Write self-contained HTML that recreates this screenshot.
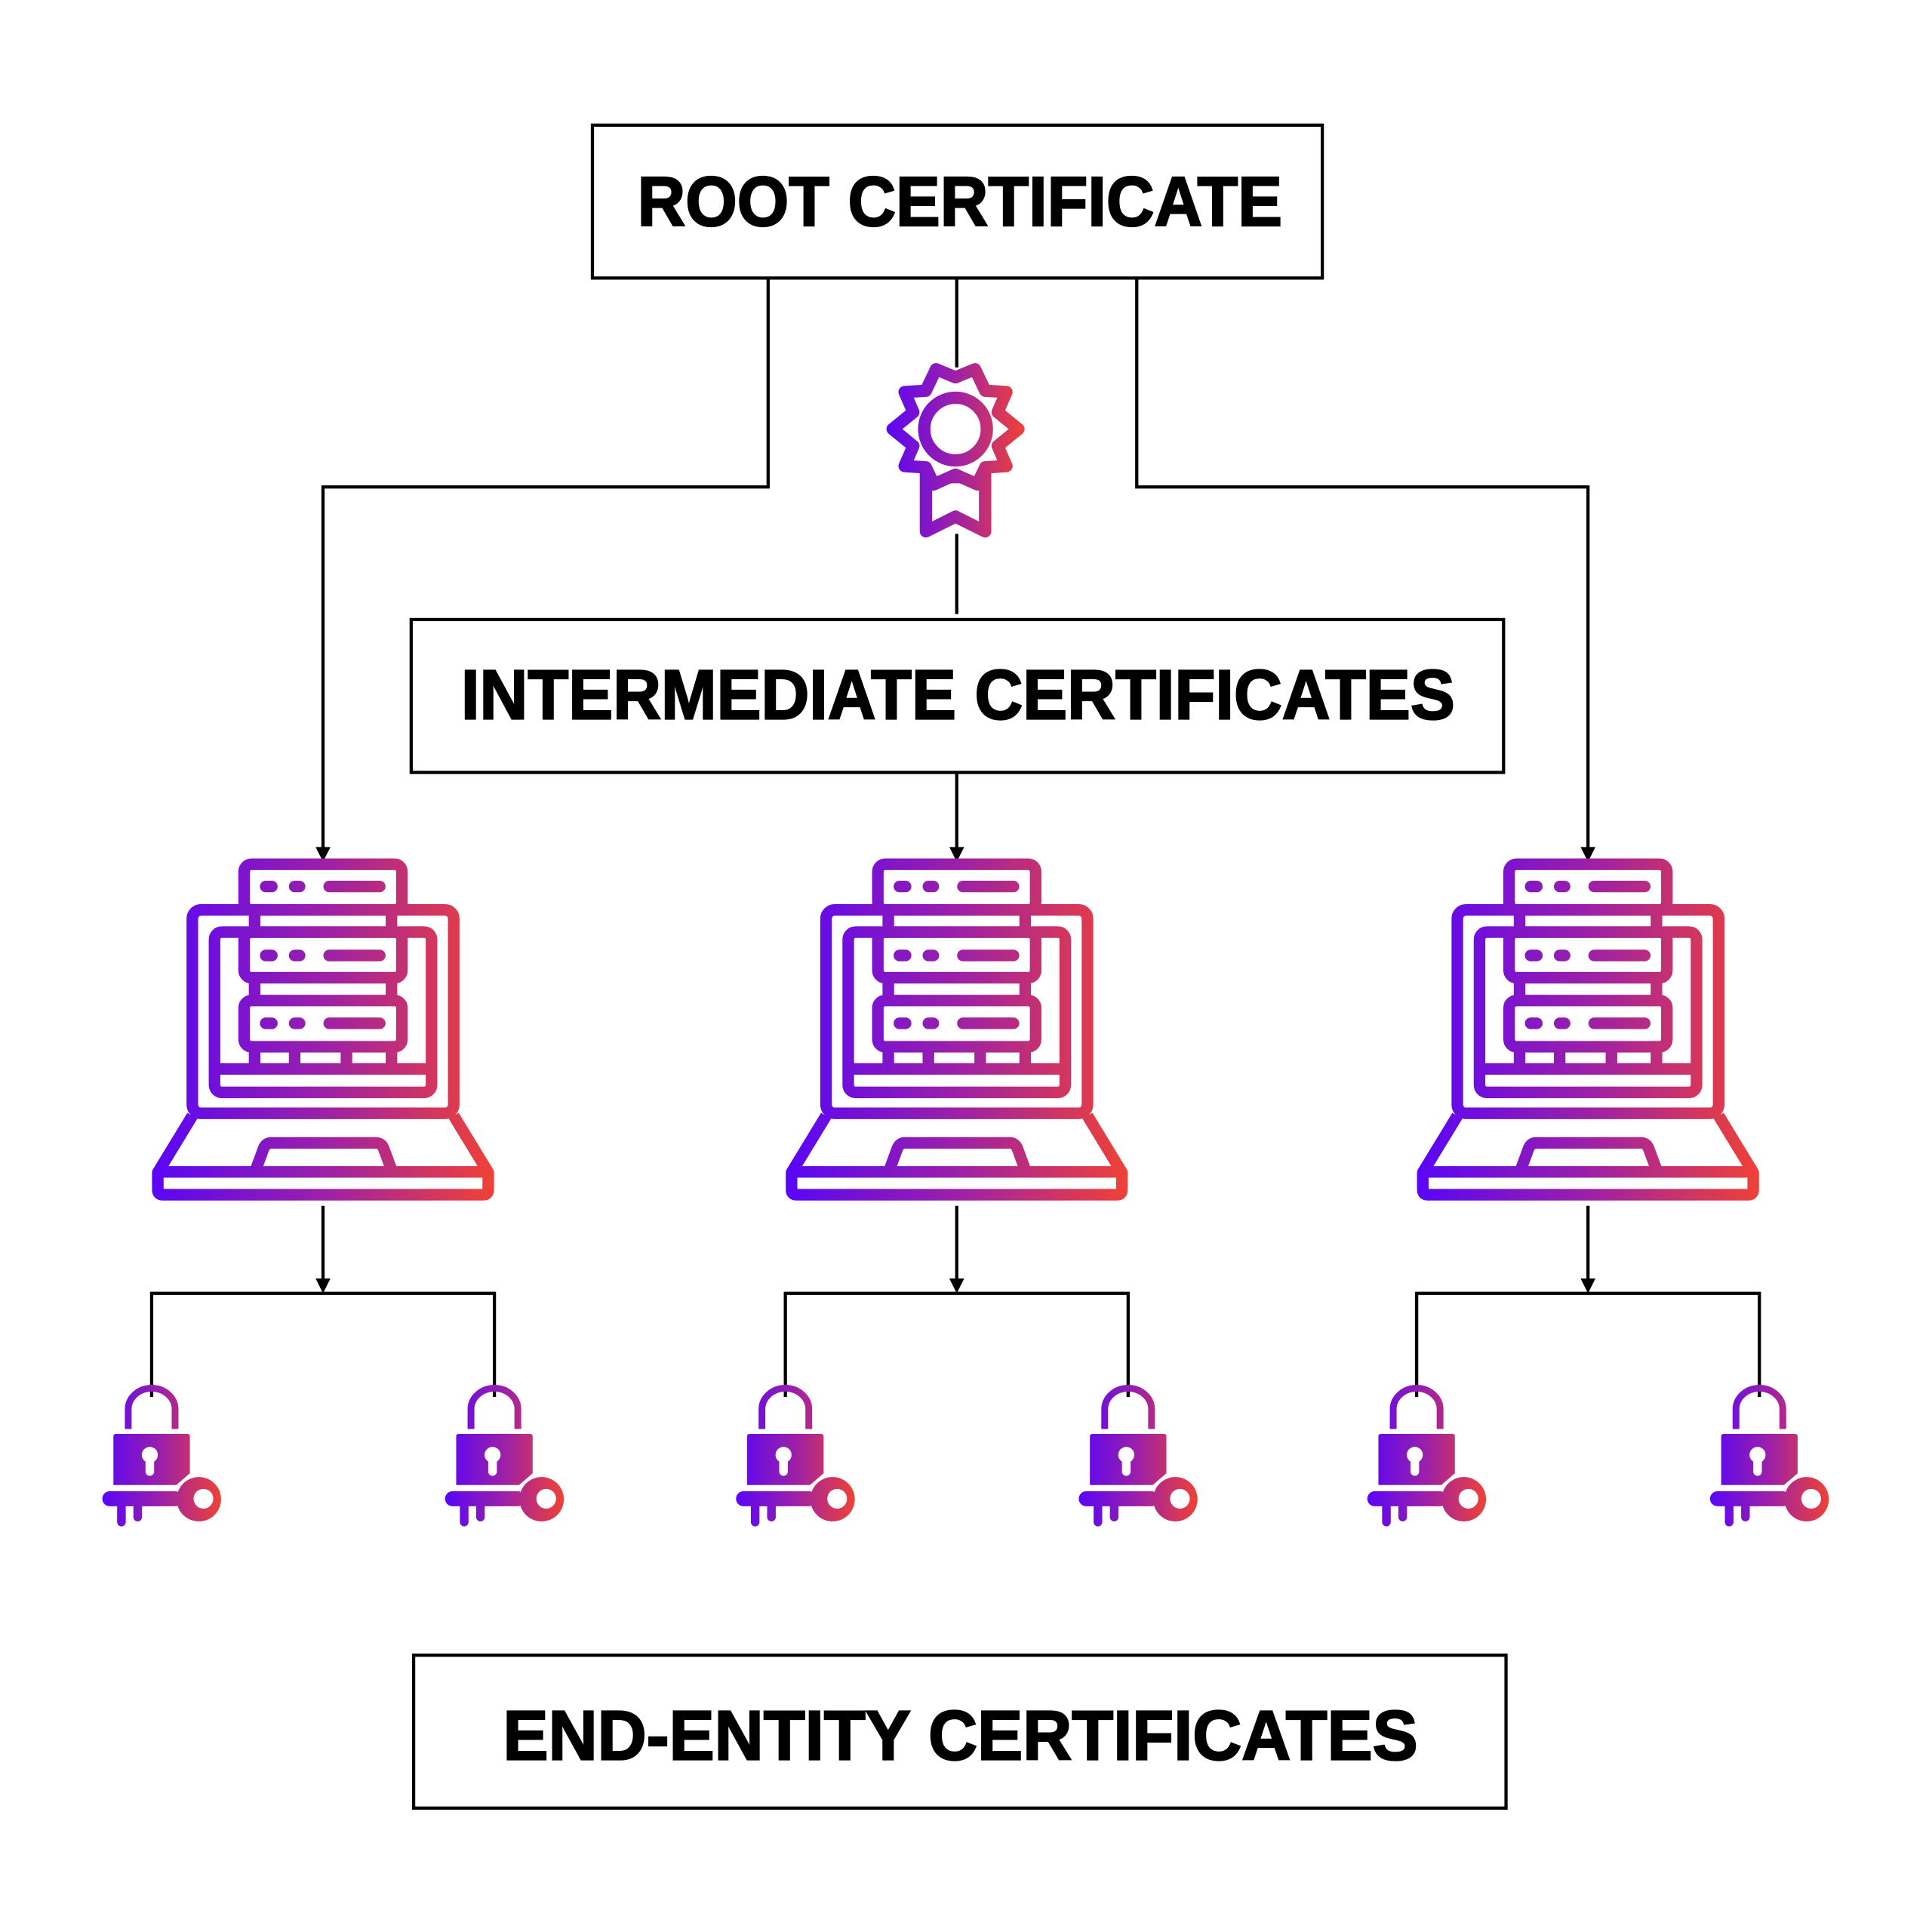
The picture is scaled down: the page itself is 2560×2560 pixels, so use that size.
<!DOCTYPE html>
<html><head><meta charset="utf-8"><style>html,body{margin:0;padding:0;background:#fff}svg{display:block}</style></head>
<body>
<svg width="2560" height="2560" viewBox="0 0 1567 1567" xmlns="http://www.w3.org/2000/svg" xmlns:xlink="http://www.w3.org/1999/xlink">
<defs>
<linearGradient id="gl" gradientUnits="userSpaceOnUse" x1="-137" y1="0" x2="137" y2="0">
<stop offset="0" stop-color="#5a06f5"/><stop offset="0.5" stop-color="#9c20a8"/><stop offset="1" stop-color="#ef4137"/></linearGradient>
<linearGradient id="gm" gradientUnits="userSpaceOnUse" x1="718" y1="0" x2="830" y2="0">
<stop offset="0" stop-color="#5a06f5"/><stop offset="0.5" stop-color="#9c20a8"/><stop offset="1" stop-color="#ef4137"/></linearGradient>
<linearGradient id="gk" gradientUnits="userSpaceOnUse" x1="-40" y1="0" x2="56" y2="0">
<stop offset="0" stop-color="#5a06f5"/><stop offset="0.5" stop-color="#9c20a8"/><stop offset="1" stop-color="#ef4137"/></linearGradient>
<g id="laptop" fill="none" stroke="url(#gl)" stroke-width="9.4" stroke-linejoin="round">
  <rect x="-106" y="735" width="212" height="165" rx="7"/>
  <rect x="-88" y="753" width="176" height="130" rx="6"/>
  <line x1="-88" y1="864" x2="88" y2="864"/>
  <rect x="-64" y="698" width="128" height="37" rx="6"/>
  <rect x="-64" y="753" width="128" height="37" rx="6"/>
  <rect x="-64" y="808.5" width="128" height="37.5" rx="6"/>
  <line x1="-55.5" y1="735" x2="-55.5" y2="753"/><line x1="55.5" y1="735" x2="55.5" y2="753"/>
  <line x1="-55.5" y1="790" x2="-55.5" y2="808"/><line x1="55.5" y1="790" x2="55.5" y2="808"/>
  <line x1="-55.5" y1="846" x2="-55.5" y2="864"/><line x1="55.5" y1="846" x2="55.5" y2="864"/>
  <line x1="-23" y1="846" x2="-23" y2="864"/><line x1="19" y1="846" x2="19" y2="864"/>
  <g stroke-linecap="round">
   <line x1="-46.5" y1="716" x2="-41.5" y2="716"/><line x1="-23" y1="716" x2="-19" y2="716"/><line x1="5" y1="716" x2="46" y2="716"/>
   <line x1="-46.5" y1="772" x2="-41.5" y2="772"/><line x1="-23" y1="772" x2="-19" y2="772"/><line x1="5" y1="772" x2="46" y2="772"/>
   <line x1="-46.5" y1="827" x2="-41.5" y2="827"/><line x1="-23" y1="827" x2="-19" y2="827"/><line x1="5" y1="827" x2="46" y2="827"/>
  </g>
  <path d="M-106,902 L-134,948 L-134,962 Q-134,966 -130,966 L130,966 Q134,966 134,962 L134,948 L106,902"/>
  <line x1="-134" y1="947.5" x2="134" y2="947.5"/>
  <path d="M-55,947 L-48,928 Q-46,924 -42,924 L43,924 Q47,924 49,928 L56,947"/>
</g>
<g id="lock">
  <path d="M-19,1154 L-19,1138 A19,17 0 0 1 19,1138 L19,1154" fill="none" stroke="url(#gk)" stroke-width="5.5"/>
  <path d="M-31,1160 Q-31,1158 -29,1158 L29,1158 Q31,1158 31,1160 L31,1190 L20,1199.5 L-31,1199.5 Z" fill="url(#gk)"/>
  <circle cx="-1.5" cy="1175" r="6.5" fill="#fff"/>
  <rect x="-5" y="1175" width="7" height="17" rx="3.5" fill="#fff"/>
  <circle cx="38.3" cy="1211" r="20.5" fill="#fff"/>
  <rect x="-40" y="1204.5" width="65" height="12.2" rx="6" fill="url(#gk)"/>
  <rect x="-28" y="1208" width="7" height="25" rx="3.5" fill="url(#gk)"/>
  <rect x="-14.8" y="1208" width="7" height="21" rx="3.5" fill="url(#gk)"/>
  <circle cx="38.3" cy="1211" r="18" fill="url(#gk)"/>
  <circle cx="42" cy="1210.6" r="8" fill="#fff"/>
</g>
</defs>

<g fill="none" stroke="#000" stroke-width="2.6">
  <rect x="480.5" y="101.5" width="592" height="124"/>
  <rect x="333.5" y="502.5" width="886" height="124"/>
  <rect x="335.5" y="1342.5" width="886" height="124"/>
  <path d="M776,226 V298 M776,433 V498"/>
  <path d="M623,226 V395 H262 V688"/>
  <path d="M922,226 V395 H1288 V688"/>
  <path d="M776,626 V688"/>
  <path d="M262,978 V1040 M776,978 V1040 M1288,978 V1040"/>
  <path d="M123,1133 V1049 H401 V1133 M637,1133 V1049 H915 V1133 M1149,1133 V1049 H1427 V1133"/>
</g>
<g fill="#000">
  <path d="M256,687 L268,687 L262,699 Z"/>
  <path d="M770,687 L782,687 L776,699 Z"/>
  <path d="M1282,687 L1294,687 L1288,699 Z"/>
  <path d="M256,1037 L268,1037 L262,1049 Z"/>
  <path d="M770,1037 L782,1037 L776,1049 Z"/>
  <path d="M1282,1037 L1294,1037 L1288,1049 Z"/>
</g>

<g font-family="Liberation Sans, sans-serif" font-weight="bold" font-size="57" fill="#000" stroke="#000" stroke-width="1.4">
  <text x="517" y="183" textLength="523" lengthAdjust="spacingAndGlyphs">ROOT CERTIFICATE</text>
  <text x="374" y="583" textLength="806" lengthAdjust="spacingAndGlyphs">INTERMEDIATE CERTIFICATES</text>
  <text x="408" y="1427" textLength="742" lengthAdjust="spacingAndGlyphs">END-ENTITY CERTIFICATES</text>
</g>

<!-- medal -->
<g fill="none" stroke="url(#gm)" stroke-width="10" stroke-linejoin="round">
  <polygon points="826,348 809.2,361.7 816.3,378 799.1,379.1 790.8,396.5 775,390 759.2,396.5 750.9,379.1 733.7,378 740.8,361.7 724,348 740.8,334.3 733.7,318 750.9,316.9 759.2,299.5 775,306 790.8,299.5 799.1,316.9 816.3,318 809.2,334.3"/>
  <circle cx="775" cy="348" r="25.4"/>
</g>
<polygon points="752,392 798,392 798,428 752,428" fill="#fff"/>
<g fill="none" stroke="url(#gm)" stroke-width="10" stroke-linejoin="round" stroke-linecap="round">
  <path d="M751,380 L751,431 L775,419 L799,431 L799,380"/>
  <path d="M757,393 L775,385 L793,393"/>
</g>

<use xlink:href="#laptop" transform="translate(262,3)"/>
<use xlink:href="#laptop" transform="translate(776,3)"/>
<use xlink:href="#laptop" transform="translate(1288,3)"/>

<use xlink:href="#lock" transform="translate(123,5)"/>
<use xlink:href="#lock" transform="translate(401,5)"/>
<use xlink:href="#lock" transform="translate(637,5)"/>
<use xlink:href="#lock" transform="translate(915,5)"/>
<use xlink:href="#lock" transform="translate(1149,5)"/>
<use xlink:href="#lock" transform="translate(1427,5)"/>
</svg>
</body></html>
